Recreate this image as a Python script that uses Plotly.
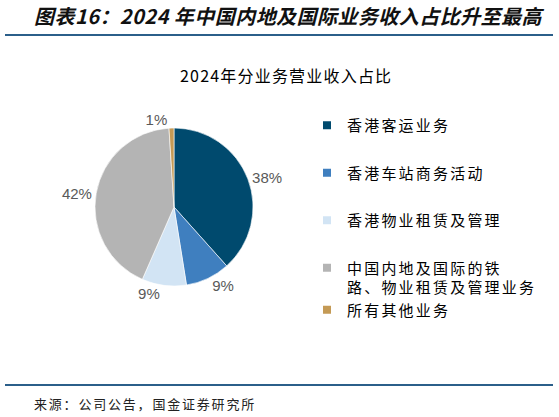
import plotly.graph_objects as go

# ---- data ----
categories = ["香港客运业务", "香港车站商务活动", "香港物业租赁及管理",
              "中国内地及国际的铁路、物业租赁及管理业务", "所有其他业务"]
legend_labels = ["香港客运业务", "香港车站商务活动", "香港物业租赁及管理",
                 "中国内地及国际的铁<br>路、物业租赁及管理业务", "所有其他业务"]
shares = [38, 9, 9, 42, 1]
colors = ["#004A6E", "#3F7FBF", "#D2E4F4", "#B4B4B4", "#C49A55"]
legend_groups = ["g1", "g2", "g3", "g4", "g4"]

main_title = "图表16：2024 年中国内地及国际业务收入占比升至最高"
chart_title = "2024年分业务营业收入占比"
source_text = "来源：公司公告，国金证券研究所"

W, H = 559, 417
CJK = "Noto Sans CJK SC"

fig = go.Figure()

# pie centred at (174, 207) px, radius 79 px
cx, cy, r = 174, 207, 79
fig.add_trace(go.Pie(
    labels=categories,
    values=shares,
    sort=False,
    direction="clockwise",
    rotation=0,
    marker=dict(colors=colors, line=dict(color="white", width=0.6)),
    texttemplate="%{value}%",
    textposition="outside",
    textfont=dict(family="Liberation Sans, Arial", size=15, color="#595959"),
    domain=dict(x=[(cx - r) / W, (cx + r) / W], y=[1 - (cy + r) / H, 1 - (cy - r) / H]),
    showlegend=False,
    hoverinfo="label+percent",
))

# legend entries (markers only, no data drawn)
for name, col, grp in zip(legend_labels, colors, legend_groups):
    fig.add_trace(go.Scatter(
        x=[None], y=[None], mode="markers",
        marker=dict(symbol="square", size=8, color=col),
        name=f'<span style="letter-spacing:2.2px">{name}</span>',
        legendgroup=grp, showlegend=True, hoverinfo="skip",
    ))

fig.update_layout(
    width=W, height=H,
    margin=dict(l=0, r=0, t=0, b=0),
    paper_bgcolor="white", plot_bgcolor="white",
    xaxis=dict(visible=False), yaxis=dict(visible=False),
    showlegend=True,
    legend=dict(
        x=(327 - 20) / W, y=1 - 109 / H, xanchor="left", yanchor="top",
        font=dict(family=CJK, size=15, color="#000000"),
        traceorder="grouped", tracegroupgap=25, valign="top",
        bgcolor="rgba(0,0,0,0)", borderwidth=0,
    ),
    annotations=[
        dict(text=f'<span style="letter-spacing:0.45px"><b><i>{main_title}</i></b></span>',
             x=32 / W, y=1 - 16 / H, xref="paper", yref="paper",
             xanchor="left", yanchor="middle", showarrow=False,
             font=dict(family=CJK, size=20, color="#111111")),
        dict(text=f'<span style="letter-spacing:1.2px">{chart_title}</span>',
             x=286 / W, y=1 - 75 / H, xref="paper", yref="paper",
             xanchor="center", yanchor="middle", showarrow=False,
             font=dict(family=CJK, size=16, color="#000000")),
        dict(text=f'<span style="letter-spacing:1.8px">{source_text}</span>',
             x=32 / W, y=1 - 403 / H, xref="paper", yref="paper",
             xanchor="left", yanchor="middle", showarrow=False,
             font=dict(family=CJK, size=13, color="#222222")),
    ],
    shapes=[
        dict(type="line", xref="paper", yref="paper",
             x0=5 / W, x1=553 / W, y0=1 - 35 / H, y1=1 - 35 / H,
             line=dict(color="#2B5F8A", width=2)),
        dict(type="line", xref="paper", yref="paper",
             x0=5 / W, x1=553 / W, y0=1 - 385 / H, y1=1 - 385 / H,
             line=dict(color="#2B5F8A", width=2)),
    ],
)

fig.write_html("out.html", config={"displayModeBar": False},
               post_script="document.body.style.margin='0';")
